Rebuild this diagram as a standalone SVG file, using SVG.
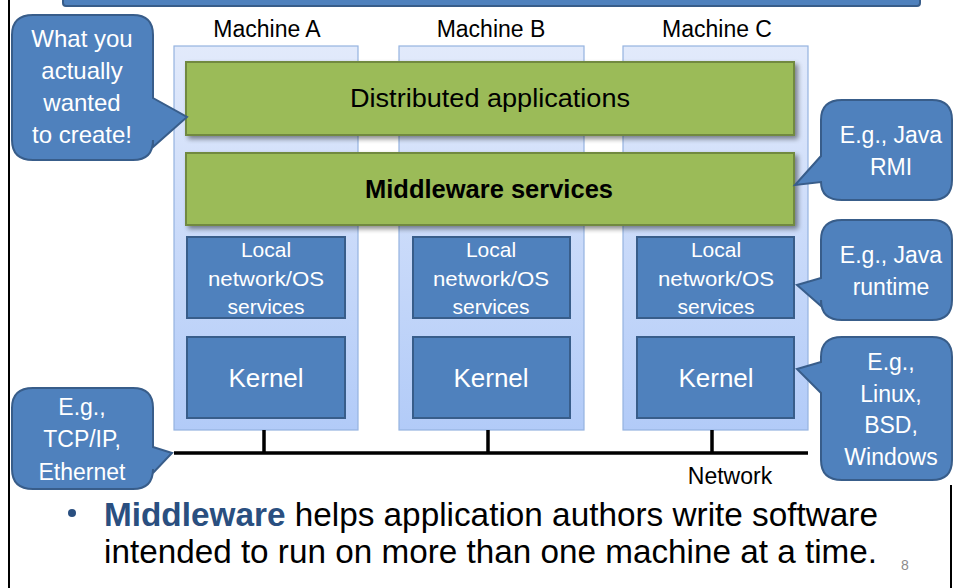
<svg xmlns="http://www.w3.org/2000/svg" width="953" height="588" viewBox="0 0 953 588">
  <style>
    .frame { stroke: #000; stroke-width: 2; fill: none; }
    .col { fill: url(#colGrad); stroke: #95b3e0; stroke-width: 1.2; }
    .green { fill: #9bbb59; stroke: #71893f; stroke-width: 2; }
    .blue { fill: #4f81bd; stroke: #385d8a; stroke-width: 2; }
    .callout { fill: #4f81bd; stroke: #385d8a; stroke-width: 2; }
    .wire { stroke: #000; stroke-width: 3.5; fill: none; }
    text { font-family: "Liberation Sans", Arial, sans-serif; }
    .lbl { font-size: 23px; fill: #000; text-anchor: middle; }
    .wt { fill: #fff; text-anchor: middle; }
    .big { font-size: 33px; fill: #000; }
  </style>
  <defs>
    <linearGradient id="colGrad" x1="0" y1="0" x2="0" y2="1">
      <stop offset="0" stop-color="#e2eafb"/>
      <stop offset="1" stop-color="#b2cbf8"/>
    </linearGradient>
    <filter id="shadow" x="-5%" y="-20%" width="115%" height="150%">
      <feGaussianBlur in="SourceAlpha" stdDeviation="2.5"/>
      <feOffset dx="3" dy="3" result="b"/>
      <feComponentTransfer><feFuncA type="linear" slope="0.45"/></feComponentTransfer>
      <feMerge><feMergeNode/><feMergeNode in="SourceGraphic"/></feMerge>
    </filter>
  </defs>

  <!-- slide frame -->
  <line class="frame" x1="9" y1="0" x2="9" y2="588"/>
  <line class="frame" x1="951" y1="485" x2="951" y2="588"/>
  <rect x="63" y="-12" width="857" height="18" rx="3" fill="#4f81bd" stroke="#385d8a" stroke-width="2"/>

  <!-- machine columns -->
  <g id="machineA">
    <rect class="col" x="174" y="46" width="184" height="384"/>
    <text class="lbl" x="267" y="37">Machine A</text>
  </g>
  <g id="machineB">
    <rect class="col" x="399" y="46" width="185" height="384"/>
    <text class="lbl" x="491" y="37">Machine B</text>
  </g>
  <g id="machineC">
    <rect class="col" x="623" y="46" width="185" height="384"/>
    <text class="lbl" x="717" y="37">Machine C</text>
  </g>

  <!-- network bus -->
  <g id="connectors">
    <path class="wire" d="M174 453 H808 M264 430 V453 M488 430 V453 M712 430 V453"/>
  </g>
  <g id="network">
    <text class="lbl" x="730" y="484" font-size="21">Network</text>
  </g>

  <!-- shared layers -->
  <g id="distributedApps">
    <rect class="green" x="186" y="62" width="608" height="73" filter="url(#shadow)"/>
    <text x="490" y="107" font-size="26" text-anchor="middle" textLength="280" lengthAdjust="spacingAndGlyphs">Distributed applications</text>
  </g>
  <g id="middleware">
    <rect class="green" x="186" y="153" width="608" height="72" filter="url(#shadow)"/>
    <text x="489" y="198" font-size="25" font-weight="bold" text-anchor="middle" textLength="248" lengthAdjust="spacingAndGlyphs">Middleware services</text>
  </g>

  <!-- per-machine local services -->
  <g id="localA">
    <rect class="blue" x="187" y="237" width="158" height="81"/>
    <text class="wt" font-size="21" x="266" y="257">Local</text>
    <text class="wt" font-size="21" x="266" y="286" textLength="116" lengthAdjust="spacingAndGlyphs">network/OS</text>
    <text class="wt" font-size="21" x="266" y="314">services</text>
  </g>
  <g id="localB">
    <rect class="blue" x="413" y="237" width="157" height="81"/>
    <text class="wt" font-size="21" x="491" y="257">Local</text>
    <text class="wt" font-size="21" x="491" y="286" textLength="116" lengthAdjust="spacingAndGlyphs">network/OS</text>
    <text class="wt" font-size="21" x="491" y="314">services</text>
  </g>
  <g id="localC">
    <rect class="blue" x="637" y="237" width="157" height="81"/>
    <text class="wt" font-size="21" x="716" y="257">Local</text>
    <text class="wt" font-size="21" x="716" y="286" textLength="116" lengthAdjust="spacingAndGlyphs">network/OS</text>
    <text class="wt" font-size="21" x="716" y="314">services</text>
  </g>

  <!-- kernels -->
  <g id="kernelA">
    <rect class="blue" x="187" y="337" width="158" height="81"/>
    <text class="wt" font-size="26" x="266" y="387">Kernel</text>
  </g>
  <g id="kernelB">
    <rect class="blue" x="413" y="337" width="157" height="81"/>
    <text class="wt" font-size="26" x="491" y="387">Kernel</text>
  </g>
  <g id="kernelC">
    <rect class="blue" x="637" y="337" width="157" height="81"/>
    <text class="wt" font-size="26" x="716" y="387">Kernel</text>
  </g>

  <!-- callouts -->
  <g id="calloutApps">
    <path class="callout" d="M33 15 H133 Q153 15 153 35 V98 L187 117 L153 147 V140 Q153 160 133 160 H33 Q12 160 12 140 V35 Q12 15 33 15 Z"/>
    <text class="wt" font-size="24" x="82" y="47">What you</text>
    <text class="wt" font-size="24" x="82" y="79">actually</text>
    <text class="wt" font-size="24" x="82" y="111">wanted</text>
    <text class="wt" font-size="24" x="82" y="143">to create!</text>
  </g>
  <g id="calloutRMI">
    <path class="callout" d="M842 100 H932 Q952 100 952 120 V180 Q952 200 932 200 H842 Q821 200 821 182 L795 185 L821 156 V120 Q821 100 842 100 Z"/>
    <text class="wt" font-size="23" x="891" y="143">E.g., Java</text>
    <text class="wt" font-size="23" x="891" y="175">RMI</text>
  </g>
  <g id="calloutRuntime">
    <path class="callout" d="M842 220 H932 Q952 220 952 240 V300 Q952 320 932 320 H842 Q821 320 821 300 V306 L797 285 L821 278 V240 Q821 220 842 220 Z"/>
    <text class="wt" font-size="23" x="891" y="263">E.g., Java</text>
    <text class="wt" font-size="23" x="891" y="295">runtime</text>
  </g>
  <g id="calloutKernel">
    <path class="callout" d="M842 337 H932 Q952 337 952 357 V460 Q952 480 932 480 H842 Q821 480 821 460 V393 L797 369 L821 362 V357 Q821 337 842 337 Z"/>
    <text class="wt" font-size="23" x="891" y="370">E.g.,</text>
    <text class="wt" font-size="23" x="891" y="402">Linux,</text>
    <text class="wt" font-size="23" x="891" y="433">BSD,</text>
    <text class="wt" font-size="23" x="891" y="465">Windows</text>
  </g>
  <g id="calloutNetwork">
    <path class="callout" d="M33 388 H133 Q153 388 153 408 V447 L172 453 L153 473 V469 Q153 489 133 489 H33 Q12 489 12 469 V408 Q12 388 33 388 Z"/>
    <text class="wt" font-size="23" x="82" y="415">E.g.,</text>
    <text class="wt" font-size="23" x="82" y="447">TCP/IP,</text>
    <text class="wt" font-size="23" x="82" y="480">Ethernet</text>
  </g>

  <!-- bullet text -->
  <g id="caption">
    <circle cx="72" cy="513" r="4" fill="#2a4f80"/>
    <text class="big" x="104" y="526" textLength="774" lengthAdjust="spacingAndGlyphs"><tspan font-weight="bold" fill="#2a4f80">Middleware</tspan> helps application authors write software</text>
    <text class="big" x="104" y="563" textLength="773" lengthAdjust="spacingAndGlyphs">intended to run on more than one machine at a time.</text>
    <text x="905" y="570" font-size="14" fill="#8c8c8c" text-anchor="middle">8</text>
  </g>
</svg>
